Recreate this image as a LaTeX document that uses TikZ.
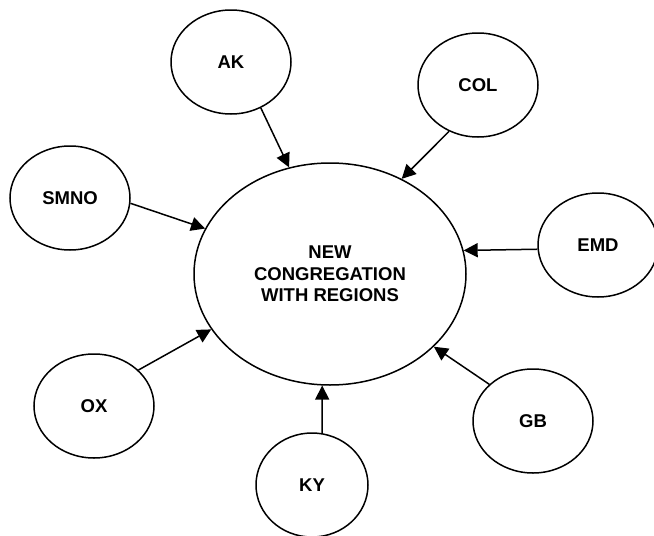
\documentclass[tikz,border=0pt]{standalone}
\usepackage{fontspec}
\setmainfont{Liberation Sans}
\usetikzlibrary{shapes.geometric,arrows.meta}
\begin{document}
\begin{tikzpicture}[x=1pt,y=-1pt,
  region/.style={ellipse,draw,line width=1.5pt,minimum width=120pt,minimum height=104pt,inner sep=0pt,
    font=\fontsize{18.5}{21.5}\selectfont\bfseries},
  link/.style={line width=1.5pt,-{Triangle[length=14pt,width=14pt]}}]
\useasboundingbox (0,0) rectangle (654,536);
\node[region,minimum width=272pt,minimum height=222pt,align=center] (c) at (330,274) {NEW\\CONGREGATION\\WITH REGIONS};
\node[region] (ak) at (231,62) {AK};
\node[region] (col) at (478,85) {COL};
\node[region] (smno) at (70,198) {SMNO};
\node[region] (emd) at (598,245) {EMD};
\node[region] (ox) at (94,406) {OX};
\node[region,minimum width=112pt] (ky) at (312,485) {KY};
\node[region] (gb) at (533,421) {GB};
\draw[link] (ak.-57) -- (c.111);
\draw[link] (col.-122) -- (c.53);
\draw[link] (smno.-5) -- (c.160);
\draw[link] (emd.184) -- (c.10);
\draw[link] (ox.39) -- (c.-155);
\draw[link] (ky.79) -- (c.-94);
\draw[link] (gb.140) -- (c.-35);
\end{tikzpicture}
\end{document}
